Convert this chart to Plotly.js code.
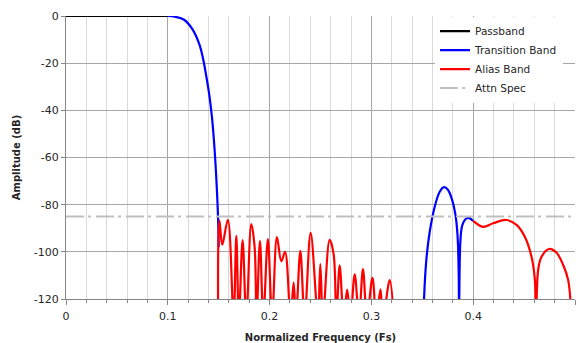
<!DOCTYPE html>
<html>
<head>
<meta charset="utf-8">
<script src="https://cdn.plot.ly/plotly-3.0.1.min.js"></script>
<style>html,body{margin:0;padding:0;background:#fff;}#chart{width:583px;height:343px;}</style>
</head>
<body>
<div id="chart"></div>
<script>
// Passband
const passFreq = [0, 0.1];
const passDb = [0, 0];

// Transition band (two segments, separated by null)
const transFreq = [0.100,0.107,0.116,0.124,0.131,0.1346,0.1376,0.1406,0.1434,0.1457,0.1478,0.1494,0.1500,
  null,
  0.3512,0.3517,0.3541,0.3573,0.3622,0.3671,0.3714,0.3753,0.3793,0.3826,0.3846,0.3858,0.3861,0.3874,0.3894,0.3934,0.3967,0.3999];
const transDb = [0,-0.3,-1.6,-5.5,-12,-18,-25,-33,-43,-55,-70,-86,-98,
  null,
  -130,-120,-102.8,-91.5,-80.9,-74.5,-72.6,-73.8,-78,-84.4,-92.9,-109.8,-128,-95.7,-88.6,-85.8,-85.8,-86.9];

// Alias band (ripple region, then upper region)
const aliasFreq = [0.1494,0.1497,0.1508,0.1535,0.1590,0.1646,0.1673,0.1698,0.1735,0.1771,0.1820,0.1853,0.1872,
  0.1905,0.1938,0.1983,0.2025,0.2072,0.2115,0.2152,0.2206,0.2236,0.2259,0.2302,0.2344,0.2403,0.2475,0.2498,
  0.2524,0.2590,0.2629,0.2656,0.2688,0.2728,0.2762,0.2794,0.2836,0.2878,0.2917,0.2957,0.3010,0.3049,0.3089,
  0.3114,0.3180,0.3219,
  null,
  0.3999,0.4097,0.4196,0.4327,0.4426,0.4507,0.4573,0.4606,0.4616,0.4638,0.4671,0.4746,0.4819,0.4884,0.4933,0.4967];
const aliasDb = [-128,-95,-86.8,-97,-86.4,-128,-93.2,-128,-95,-128,-88.2,-98,-128,
  -95.3,-128,-94.6,-128,-93.8,-104,-100,-128,-113,-128,-99.6,-128,-92,-128,-105.2,
  -128,-94.9,-101,-128,-105.7,-128,-116,-128,-109.5,-128,-107.3,-128,-111,-128,-115.9,
  -128,-112,-128,
  null,
  -86.9,-89.4,-87.9,-86.5,-88.6,-93.6,-102.1,-112,-130,-107.7,-102.1,-98.8,-100.4,-105.6,-112,-130];

// Attenuation spec
const specFreq = [0, 0.5];
const specDb = [-85, -85];

const yTicks = [0,-20,-40,-60,-80,-100,-120];
const xTicks = [0,0.1,0.2,0.3,0.4,0.5];

const FONT = 'DejaVu Sans, Verdana, sans-serif';
const traces = [
  {x: passFreq, y: passDb, name: 'Passband', mode: 'lines', line: {color: '#000000', width: 2.2}},
  {x: transFreq, y: transDb, name: 'Transition Band', mode: 'lines', connectgaps: false,
   line: {color: '#0000FF', width: 2.2, shape: 'spline', smoothing: 1}},
  {x: aliasFreq, y: aliasDb, name: 'Alias Band', mode: 'lines', connectgaps: false,
   line: {color: '#FF0000', width: 2.2, shape: 'spline', smoothing: 1}},
  {x: specFreq, y: specDb, name: 'Attn Spec', mode: 'lines',
   line: {color: '#BFBFBF', width: 2, dash: '18px,4px,3px,5px'}}
];

const layout = {
  width: 583, height: 343,
  margin: {l: 66, r: 8, t: 16, b: 44},
  paper_bgcolor: '#ffffff', plot_bgcolor: '#ffffff',
  font: {family: FONT, size: 11, color: '#262626'},
  showlegend: true,
  legend: {x: 0.725, y: 0.998, xanchor: 'left', yanchor: 'top', bgcolor: '#ffffff', borderwidth: 0,
           font: {family: FONT, size: 10.5, color: '#262626'}},
  xaxis: {
    range: [0, 0.5], tickvals: xTicks, ticktext: xTicks.map(String),
    ticks: 'outside', ticklen: 5, tickcolor: '#868686', ticklabelstandoff: 2,
    showgrid: true, gridcolor: '#A6A6A6', gridwidth: 1,
    showline: true, linecolor: '#868686', zeroline: false,
    minor: {dtick: 0.02, tick0: 0, ticks: 'outside', ticklen: 3, tickcolor: '#868686', showgrid: true, gridcolor: '#D9D9D9'},
    tickfont: {family: FONT, size: 11, color: '#262626'},
    title: {text: 'Normalized Frequency (Fs)', font: {family: FONT, size: 10, color: '#262626', weight: 'bold'}, standoff: 13}
  },
  yaxis: {
    range: [-120, 0], tickvals: yTicks, ticktext: yTicks.map(String),
    ticks: 'outside', ticklen: 4, tickcolor: '#868686',
    showgrid: true, gridcolor: '#A6A6A6', gridwidth: 1,
    showline: true, linecolor: '#868686', zeroline: false,
    tickfont: {family: FONT, size: 11, color: '#262626'},
    title: {text: 'Amplitude (dB)', font: {family: FONT, size: 10, color: '#262626', weight: 'bold'}, standoff: 11}
  }
};

Plotly.newPlot('chart', traces, layout, {staticPlot: true, displayModeBar: false});
</script>
</body>
</html>
